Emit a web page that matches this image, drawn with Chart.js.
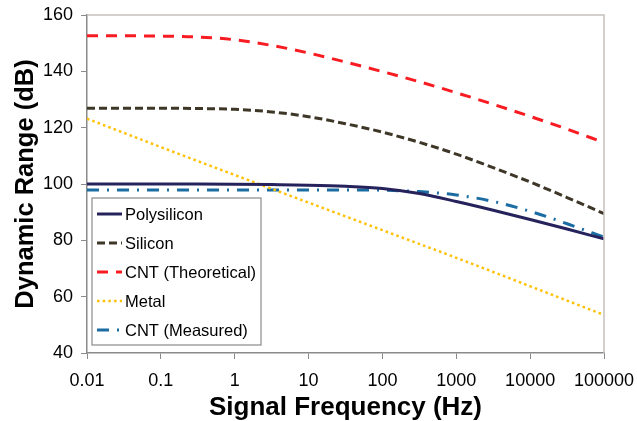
<!DOCTYPE html>
<html>
<head>
<meta charset="utf-8">
<script src="https://cdn.jsdelivr.net/npm/chart.js@4.4.0/dist/chart.umd.min.js"></script>
<style>
html, body { margin: 0; padding: 0; background: #fff; }
#wrap { width: 637px; height: 421px; }
</style>
</head>
<body>
<div id="wrap"><canvas id="chart" width="637" height="421"></canvas></div>
<script>
// frequencies (Hz) read at decades and half decades
const freqs = [0.01, 0.0316, 0.1, 0.316, 1, 3.16, 10, 31.6, 100, 316, 1000, 3162, 10000, 31623, 100000];
const decades = [0.01, 0.1, 1, 10, 100, 1000, 10000, 100000];
const tickLabels = ['0.01', '0.1', '1', '10', '100', '1000', '10000', '100000'];

const polysilicon = [100, 100, 100, 100, 99.95, 99.8, 99.6, 99.2, 98.4, 96.6, 93.8, 90.7, 87.4, 84, 80.5];
const silicon = [126.9, 126.9, 126.9, 126.8, 126.5, 125.6, 123.9, 121.4, 118.4, 114.8, 110.6, 105.8, 100.7, 95.2, 89.5];
const cntTheoretical = [152.6, 152.6, 152.5, 152.2, 151.2, 149.2, 146.5, 143.3, 139.9, 136.3, 132.4, 128.3, 124, 119.5, 114.7];
const cntMeasured = [97.9, 97.9, 97.9, 97.9, 97.9, 97.9, 97.9, 97.9, 97.8, 97.3, 96.1, 93.8, 90.3, 85.9, 81.1];
const metal = [123.2, 113.1, 103.2, 93.4, 83.6, 73.8, 63.7, 53.5]; // at decades

const fontFamily = '"Liberation Sans", Arial, sans-serif';

function pts(xs, ys) {
    return ys.map((y, i) => ({ x: xs[i], y: y }));
}

// frame on top and right of the plot + legend box inside the plot
const framePlugin = {
    id: 'frame',
    afterDraw(chart) {
        const ctx = chart.ctx;
        const a = chart.chartArea;
        ctx.save();
        ctx.strokeStyle = '#c4c0bc';
        ctx.lineWidth = 1.5;
        ctx.beginPath();
        ctx.moveTo(a.left, a.top);
        ctx.lineTo(a.right, a.top);
        ctx.lineTo(a.right, a.bottom);
        ctx.stroke();

        // legend
        const bx = a.left + 5, by = a.top + 183, bw = 169, bh = 147;
        ctx.fillStyle = '#fff';
        ctx.fillRect(bx, by, bw, bh);
        ctx.strokeStyle = '#8a8a8a';
        ctx.lineWidth = 1.2;
        ctx.strokeRect(bx, by, bw, bh);
        ctx.font = '16.5px ' + fontFamily;
        ctx.textBaseline = 'middle';
        ctx.fillStyle = '#000';
        chart.data.datasets.forEach((ds, i) => {
            const y = by + 16 + i * 29;
            ctx.save();
            ctx.strokeStyle = ds.borderColor;
            ctx.lineWidth = ds.borderWidth;
            ctx.setLineDash(ds.borderDash || []);
            ctx.beginPath();
            ctx.moveTo(bx + 5, y);
            ctx.lineTo(bx + 30, y);
            ctx.stroke();
            ctx.restore();
            ctx.fillText(ds.label, bx + 33, y + 1);
        });
        ctx.restore();
    }
};

new Chart(document.getElementById('chart'), {
    type: 'line',
    data: {
        datasets: [{
            label: 'Polysilicon',
            data: pts(freqs, polysilicon),
            borderColor: '#25225c',
            borderWidth: 3,
            borderDash: []
        }, {
            label: 'Silicon',
            data: pts(freqs, silicon),
            borderColor: '#3e3728',
            borderWidth: 3,
            borderDash: [8, 4]
        }, {
            label: 'CNT (Theoretical)',
            data: pts(freqs, cntTheoretical),
            borderColor: '#f81c22',
            borderWidth: 3,
            borderDash: [11, 8]
        }, {
            label: 'Metal',
            data: pts(decades, metal),
            borderColor: '#ffc000',
            borderWidth: 2.5,
            borderDash: [2.5, 3.2]
        }, {
            label: 'CNT (Measured)',
            data: pts(freqs, cntMeasured),
            borderColor: '#1b6ca2',
            borderWidth: 3,
            borderDash: [12, 8, 2, 8]
        }]
    },
    options: {
        responsive: false,
        animation: false,
        elements: {
            point: { radius: 0 },
            line: { cubicInterpolationMode: 'monotone' }
        },
        layout: {
            padding: { left: 0, right: 33, top: 15, bottom: 0 }
        },
        scales: {
            x: {
                type: 'logarithmic',
                min: 0.01,
                max: 100000,
                afterBuildTicks: scale => {
                    scale.ticks = decades.map(v => ({ value: v }));
                },
                afterFit: scale => {
                    scale.height = 68;
                    scale.paddingLeft = 0;
                    scale.paddingRight = 0;
                },
                grid: {
                    drawOnChartArea: false,
                    drawTicks: true,
                    tickLength: 6,
                    color: '#8a8a8a'
                },
                border: { color: '#8a8a8a', width: 1.5 },
                ticks: {
                    autoSkip: false,
                    maxRotation: 0,
                    padding: 11,
                    color: '#000',
                    font: { family: fontFamily, size: 18 },
                    callback: (value, index) => tickLabels[index]
                },
                title: {
                    display: true,
                    text: 'Signal Frequency (Hz)',
                    color: '#000',
                    font: { family: fontFamily, size: 26, weight: 'bold', lineHeight: 1.0 },
                    padding: { top: 1, bottom: 0 }
                }
            },
            y: {
                min: 40,
                max: 160,
                afterFit: scale => {
                    scale.width = 87;
                    scale.paddingTop = 0;
                    scale.paddingBottom = 0;
                },
                grid: {
                    drawOnChartArea: false,
                    drawTicks: true,
                    tickLength: 6,
                    color: '#8a8a8a'
                },
                border: { color: '#8a8a8a', width: 1.5 },
                ticks: {
                    stepSize: 20,
                    padding: 8,
                    color: '#000',
                    font: { family: fontFamily, size: 18 }
                },
                title: {
                    display: true,
                    text: 'Dynamic Range (dB)',
                    color: '#000',
                    font: { family: fontFamily, size: 25.5, weight: 'bold', lineHeight: 1.2 },
                    padding: { top: 11, bottom: 0 }
                }
            }
        },
        plugins: {
            legend: { display: false },
            tooltip: { enabled: false }
        }
    },
    plugins: [framePlugin]
});
</script>
</body>
</html>
